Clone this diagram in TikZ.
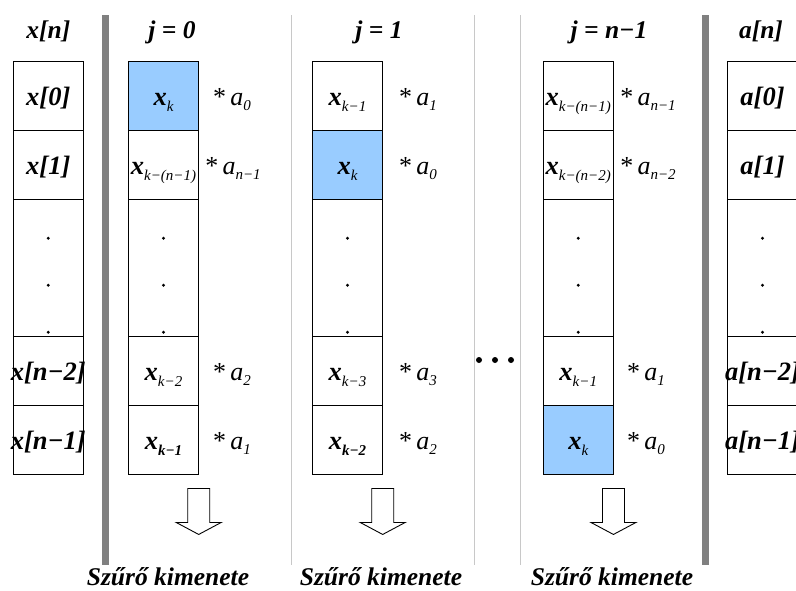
\documentclass[tikz,border=0pt]{standalone}
\usepackage{fontspec}
\setmainfont{Liberation Serif}
\usetikzlibrary{calc}

\definecolor{cellblue}{HTML}{99CCFF}
\definecolor{barthick}{HTML}{808080}
\definecolor{barthin}{HTML}{C8C8C8}

% cell text that may overhang its box without widening it
\newcommand\ct[1]{\makebox[0pt][c]{#1}}
% x with a lowered, smaller index (light or bold)
\newcommand\xsub[1]{\ct{x\raisebox{-6pt}{\fontsize{15}{15}\selectfont\mdseries\itshape #1}}}
\newcommand\xsubb[1]{\ct{x\raisebox{-6pt}{\fontsize{15}{15}\selectfont\bfseries\itshape #1}}}
% filter coefficient factor
\newcommand\coef[1]{*\,\textit{a}\raisebox{-5pt}{\fontsize{15}{15}\selectfont\itshape #1}}

\tikzset{
  cell/.style={draw=black, line width=0.9pt, minimum width=69.5pt, minimum height=69pt,
    inner sep=0pt, text height=22pt, text depth=3pt,
    font=\fontsize{26.5}{26.5}\selectfont\bfseries\itshape},
  gapcell/.style={cell, minimum height=137pt},
  hot/.style={fill=cellblue},
  factor/.style={inner sep=0pt, text height=22pt, text depth=3pt,
    font=\fontsize{26}{26}\selectfont},
  heading/.style={inner sep=0pt, anchor=base, font=\fontsize{25.5}{25.5}\selectfont\bfseries\itshape},
  tinydot/.style={circle, fill=black, inner sep=0pt, minimum size=3.2pt},
  bigdot/.style={circle, fill=black, inner sep=0pt, minimum size=6pt},
  thickbar/.style={draw=barthick, line width=7pt},
  thinbar/.style={draw=barthin, line width=1pt},
  outarrow/.style={draw=black, line width=0.9pt, fill=white},
}

% hollow block arrow hanging from a point (top centre of its shaft)
\newcommand\outarrow[1]{%
  \draw[outarrow] (#1) ++(-11,0) -- ++(0,34) -- ++(-11.5,0) -- ++(22.5,12)
    -- ++(22.5,-12) -- ++(-11.5,0) -- ++(0,-34) -- cycle;}

% three dots inside a tall cell
\newcommand\celldots[1]{%
  \node[tinydot] (#1-d1) at ($(#1.north)+(0,39.7)$) {};
  \node[tinydot] (#1-d2) at ($(#1.north)+(0,86.7)$) {};
  \node[tinydot] (#1-d3) at ($(#1.north)+(0,133.7)$) {};}

\begin{document}
\begin{tikzpicture}[x=1pt, y=-1pt]
\useasboundingbox (0,0) rectangle (796,590);

% separators
\coordinate (s1t) at (105.5,15); \coordinate (s1b) at (105.5,565);
\coordinate (s2t) at (705,15);   \coordinate (s2b) at (705,565);
\coordinate (t1t) at (291,15);   \coordinate (t1b) at (291,565);
\coordinate (t2t) at (474.3,15); \coordinate (t2b) at (474.3,565);
\coordinate (t3t) at (520.3,15); \coordinate (t3b) at (520.3,565);
\draw[thickbar] (s1t) -- (s1b);
\draw[thickbar] (s2t) -- (s2b);
\draw[thinbar] (t1t) -- (t1b);
\draw[thinbar] (t2t) -- (t2b);
\draw[thinbar] (t3t) -- (t3b);

% headings
\node[heading] (hx) at (48.3,38) {x[n]};
\node[heading] (h0) at (172,38) {j = 0};
\node[heading] (h1) at (379,38) {j = 1};
\node[heading] (hn) at (609,38) {j = n−1};
\node[heading] (ha) at (761,38) {a[n]};

% input samples
\node[cell] (x1) at (48.3,95.5) {\ct{x[0]}};
\node[cell] (x2) at (48.3,164.5) {\ct{x[1]}};
\node[gapcell] (x3) at (48.3,267.5) {};
\node[cell] (x4) at (48.3,370.5) {\ct{x[n−2]}};
\node[cell] (x5) at (48.3,439.5) {\ct{x[n−1]}};
\celldots{x3}

% step j = 0
\node[cell,hot] (a1) at (163.5,95.5) {\xsub{k}};
\node[cell] (a2) at (163.5,164.5) {\xsub{k−(n−1)}};
\node[gapcell] (a3) at (163.5,267.5) {};
\node[cell] (a4) at (163.5,370.5) {\xsub{k−2}};
\node[cell] (a5) at (163.5,439.5) {\xsubb{k−1}};
\celldots{a3}
\node[factor] (fa1) at (232,95.5) {\coef{0}};
\node[factor] (fa2) at (233,164.5) {\coef{n−1}};
\node[factor] (fa4) at (232,370.5) {\coef{2}};
\node[factor] (fa5) at (232,439.5) {\coef{1}};

% step j = 1
\node[cell] (b1) at (347.5,95.5) {\xsub{k−1}};
\node[cell,hot] (b2) at (347.5,164.5) {\xsub{k}};
\node[gapcell] (b3) at (347.5,267.5) {};
\node[cell] (b4) at (347.5,370.5) {\xsub{k−3}};
\node[cell] (b5) at (347.5,439.5) {\xsubb{k−2}};
\celldots{b3}
\node[factor] (fb1) at (418,95.5) {\coef{1}};
\node[factor] (fb2) at (418,164.5) {\coef{0}};
\node[factor] (fb4) at (418,370.5) {\coef{3}};
\node[factor] (fb5) at (418,439.5) {\coef{2}};

% skipped steps
\node[bigdot] (e1) at (479,360) {};
\node[bigdot] (e2) at (495,360) {};
\node[bigdot] (e3) at (511,360) {};

% step j = n-1
\node[cell] (c1) at (578.25,95.5) {\xsub{k−(n−1)}};
\node[cell] (c2) at (578.25,164.5) {\xsub{k−(n−2)}};
\node[gapcell] (c3) at (578.25,267.5) {};
\node[cell] (c4) at (578.25,370.5) {\xsub{k−1}};
\node[cell,hot] (c5) at (578.25,439.5) {\xsub{k}};
\celldots{c3}
\node[factor] (fc1) at (648,95.5) {\coef{n−1}};
\node[factor] (fc2) at (648,164.5) {\coef{n−2}};
\node[factor] (fc4) at (646,370.5) {\coef{1}};
\node[factor] (fc5) at (646,439.5) {\coef{0}};

% coefficients
\node[cell] (k1) at (762.5,95.5) {\ct{a[0]}};
\node[cell] (k2) at (762.5,164.5) {\ct{a[1]}};
\node[gapcell] (k3) at (762.5,267.5) {};
\node[cell] (k4) at (762.5,370.5) {\ct{a[n−2]}};
\node[cell] (k5) at (762.5,439.5) {\ct{a[n−1]}};
\celldots{k3}

% outputs
\coordinate (oa) at ($(a5.south east)+(0,14)$);
\coordinate (ob) at ($(b5.south east)+(0,14)$);
\coordinate (oc) at ($(c5.south east)+(0,14)$);
\outarrow{oa}
\outarrow{ob}
\outarrow{oc}
\node[heading] (la) at (168,585) {Szűrő kimenete};
\node[heading] (lb) at (381,585) {Szűrő kimenete};
\node[heading] (lc) at (612,585) {Szűrő kimenete};
\end{tikzpicture}
\end{document}
